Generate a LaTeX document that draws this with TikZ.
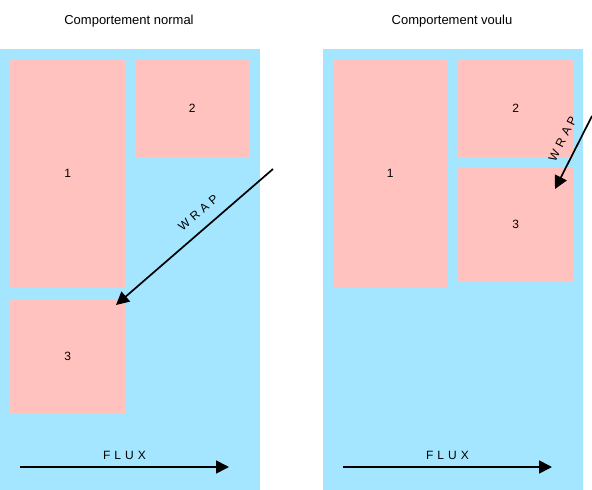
\documentclass[tikz,border=0pt]{standalone}
\usepackage{fontspec}
\setmainfont{Liberation Sans}
\newfontfamily\spaced[LetterSpace=34]{Liberation Sans}
\usepackage{xcolor}
\usepackage{tikz}
\usetikzlibrary{arrows.meta, positioning}

\definecolor{fluxblue}{RGB}{164,230,255}
\definecolor{boxpink}{RGB}{255,194,190}

\begin{document}
\begin{tikzpicture}[
            x=1pt, y=-1pt,
            font=\fontsize{12}{14}\selectfont,
            title/.style={font=\fontsize{13}{15}\selectfont},
            panel/.style={fill=fluxblue, draw=none},
            block/.style={rectangle, fill=boxpink, draw=none, inner sep=0pt, anchor=north west},
            flow/.style={-{Triangle[length=13pt, width=13pt]}, line width=1.7pt, black},
            tag/.style={font=\fontsize{12}{14}\spaced, inner sep=1pt}
        ]
            \useasboundingbox (0,0) rectangle (592,490);
            % panneau gauche
            \fill[panel] (0,49) rectangle (260,490);
            \node[title] at (129,21) {Comportement normal};
            \node[block, minimum width=115pt, minimum height=228pt] (n1) at (10,59) {1};
            \node[block, minimum width=114pt, minimum height=98pt] (n2) at (135,59) {2};
            \node[block, minimum width=115pt, minimum height=113pt] (n3) at (10,300) {3};
            \coordinate (nwrap) at (273,169);
            \coordinate (nend) at (116,305);
            \draw[flow] (nwrap) -- (nend)
                node[tag, pos=0.41, above=10pt, sloped] {WRAP};
            \coordinate (nfa) at (20,467);
            \coordinate (nfb) at (229,467);
            \draw[flow] (nfa) -- (nfb) node[tag, midway, above=6pt] {FLUX};
            % panneau droit
            \fill[panel] (323,49) rectangle (583,490);
            \node[title] at (452,21) {Comportement voulu};
            \node[block, minimum width=114pt, minimum height=228pt] (v1) at (333,59) {1};
            \node[block, minimum width=115pt, minimum height=98pt] (v2) at (458,59) {2};
            \node[block, minimum width=115pt, minimum height=114pt] (v3) at (458,167) {3};
            \coordinate (vwrap) at (592,116);
            \coordinate (vend) at (555,189);
            \draw[flow] (vwrap) -- (vend)
                node[tag, pos=0.41, above=10pt, sloped] {WRAP};
            \coordinate (vfa) at (343,467);
            \coordinate (vfb) at (552,467);
            \draw[flow] (vfa) -- (vfb) node[tag, midway, above=6pt] {FLUX};
        \end{tikzpicture}
\end{document}
